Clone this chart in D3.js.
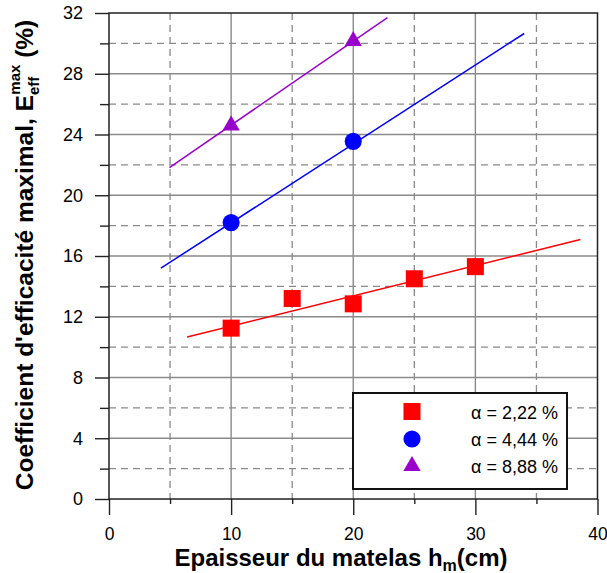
<!DOCTYPE html>
<html>
<head>
<meta charset="utf-8">
<script src="https://cdn.jsdelivr.net/npm/d3@7"></script>
<style>
  html, body { margin: 0; padding: 0; background: #fff; }
  svg { display: block; font-family: "Liberation Sans", Arial, Helvetica, sans-serif; }
</style>
</head>
<body>
<svg id="chart" width="607" height="573"></svg>
<script>
// ---- data ----
const xMajorTicks = [0, 10, 20, 30, 40];
const xMinorTicks = [5, 15, 25, 35];
const yMajorTicks = [0, 4, 8, 12, 16, 20, 24, 28, 32];
const yMinorTicks = [2, 6, 10, 14, 18, 22, 26, 30];

const seriesNames = ["α = 2,22 %", "α = 4,44 %", "α = 8,88 %"];

const redX = [10, 15, 20, 25, 30];
const redY = [11.25, 13.2, 12.85, 14.5, 15.3];
const blueX = [10, 20];
const blueY = [18.2, 23.55];
const purpleX = [10, 20];
const purpleY = [24.6, 30.15];

// fitted trend lines (endpoints)
const redFitX = [6.4, 38.6];
const redFitY = [10.67, 17.08];
const blueFitX = [4.25, 34.0];
const blueFitY = [15.2, 30.65];
const purpleFitX = [4.95, 22.8];
const purpleFitY = [21.82, 31.7];

const colors = ["#ff0000", "#0000ff", "#9900cc"];

// ---- layout ----
const svg = d3.select("#chart");
const L = 109, R = 597.5, T = 13, B = 499;
const x = d3.scaleLinear().domain([0, 40]).range([L, R]);
const y = d3.scaleLinear().domain([0, 32]).range([B, T]);

const g = svg.append("g");

// grid
g.selectAll(".gxm").data(xMajorTicks.slice(1, -1)).join("line")
  .attr("x1", d => x(d)).attr("x2", d => x(d)).attr("y1", T).attr("y2", B)
  .attr("stroke", "#8a8a8a").attr("stroke-width", 1.4);
g.selectAll(".gym").data(yMajorTicks.slice(1, -1)).join("line")
  .attr("y1", d => y(d)).attr("y2", d => y(d)).attr("x1", L).attr("x2", R)
  .attr("stroke", "#8a8a8a").attr("stroke-width", 1.4);
g.selectAll(".gxn").data(xMinorTicks).join("line")
  .attr("x1", d => x(d)).attr("x2", d => x(d)).attr("y1", T).attr("y2", B)
  .attr("stroke", "#8a8a8a").attr("stroke-width", 1.3).attr("stroke-dasharray", "7,5");
g.selectAll(".gyn").data(yMinorTicks).join("line")
  .attr("y1", d => y(d)).attr("y2", d => y(d)).attr("x1", L).attr("x2", R)
  .attr("stroke", "#8a8a8a").attr("stroke-width", 1.3).attr("stroke-dasharray", "7,5");

// frame
g.append("rect").attr("x", L).attr("y", T).attr("width", R - L).attr("height", B - T)
  .attr("fill", "none").attr("stroke", "#222").attr("stroke-width", 1.5);

// axes with d3 axis generators
const xAxisMajor = d3.axisBottom(x).tickValues(xMajorTicks).tickSize(16).tickPadding(13).tickFormat(d3.format("d"));
const xAxisMinor = d3.axisBottom(x).tickValues(xMinorTicks).tickSize(5).tickFormat("");
const yAxisMajor = d3.axisLeft(y).tickValues(yMajorTicks).tickSize(14).tickPadding(12).tickFormat(d3.format("d"));
const yAxisMinor = d3.axisLeft(y).tickValues(yMinorTicks).tickSize(9).tickFormat("");

function styleAxis(sel, fs) {
  sel.select(".domain").remove();
  sel.selectAll(".tick line").attr("stroke", "#222").attr("stroke-width", 1.4);
  sel.selectAll(".tick text").attr("fill", "#000").style("font-size", fs)
     .style("font-family", "'Liberation Sans', Arial, sans-serif");
}
g.append("g").attr("transform", `translate(0,${B})`).call(xAxisMajor).call(styleAxis, "17.5px");
g.append("g").attr("transform", `translate(0,${B})`).call(xAxisMinor).call(styleAxis, "17.5px");
g.append("g").attr("transform", `translate(${L},0)`).call(yAxisMajor).call(styleAxis, "18px");
g.append("g").attr("transform", `translate(${L},0)`).call(yAxisMinor).call(styleAxis, "18px");

// fit lines
const fits = [
  {xs: redFitX, ys: redFitY, c: colors[0]},
  {xs: blueFitX, ys: blueFitY, c: colors[1]},
  {xs: purpleFitX, ys: purpleFitY, c: colors[2]},
];
const line = d3.line().x(d => x(d[0])).y(d => y(d[1]));
fits.forEach(f => {
  g.append("path").datum(f.xs.map((v, i) => [v, f.ys[i]]))
    .attr("d", line).attr("fill", "none").attr("stroke", f.c).attr("stroke-width", 1.5);
});

// markers
const sym = [d3.symbolSquare, d3.symbolCircle, d3.symbolTriangle];
const sizes = [290, 230, 130];
const pts = [
  redX.map((v, i) => [v, redY[i]]),
  blueX.map((v, i) => [v, blueY[i]]),
  purpleX.map((v, i) => [v, purpleY[i]]),
];
pts.forEach((arr, k) => {
  g.selectAll(null).data(arr).join("path")
    .attr("transform", d => `translate(${x(d[0])},${y(d[1])})`)
    .attr("d", d3.symbol().type(sym[k]).size(sizes[k]))
    .attr("fill", colors[k]);
});

// legend
const lg = g.append("g");
lg.append("rect").attr("x", 353).attr("y", 393).attr("width", 214).attr("height", 96)
  .attr("fill", "#fff").attr("stroke", "#111").attr("stroke-width", 2);
const rowsY = [411.5, 439, 466];
seriesNames.forEach((name, k) => {
  lg.append("path").attr("transform", `translate(412,${rowsY[k]})`)
    .attr("d", d3.symbol().type(sym[k]).size(sizes[k])).attr("fill", colors[k]);
  lg.append("text").attr("x", 471).attr("y", rowsY[k] + 7)
    .style("font-size", "18px").text(name);
});

// axis titles
const xt = svg.append("text").attr("x", 341).attr("y", 566).attr("text-anchor", "middle")
  .style("font-size", "24px").style("font-weight", "bold");
xt.append("tspan").text("Epaisseur du matelas h");
xt.append("tspan").attr("dy", 5).style("font-size", "16px").text("m");
xt.append("tspan").attr("dy", -5).text("(cm)");

const yt = svg.append("text").attr("transform", "translate(33,255) rotate(-90)")
  .attr("text-anchor", "middle").style("font-size", "24.5px").style("font-weight", "bold");
yt.append("tspan").text("Coefficient d'efficacité maximal, E");
yt.append("tspan").attr("dy", 6).style("font-size", "15px").text("eff");
yt.append("tspan").attr("dx", -18).attr("dy", -19).style("font-size", "15px").text("max");
yt.append("tspan").attr("dy", 13).text(" (%)");
</script>
</body>
</html>
